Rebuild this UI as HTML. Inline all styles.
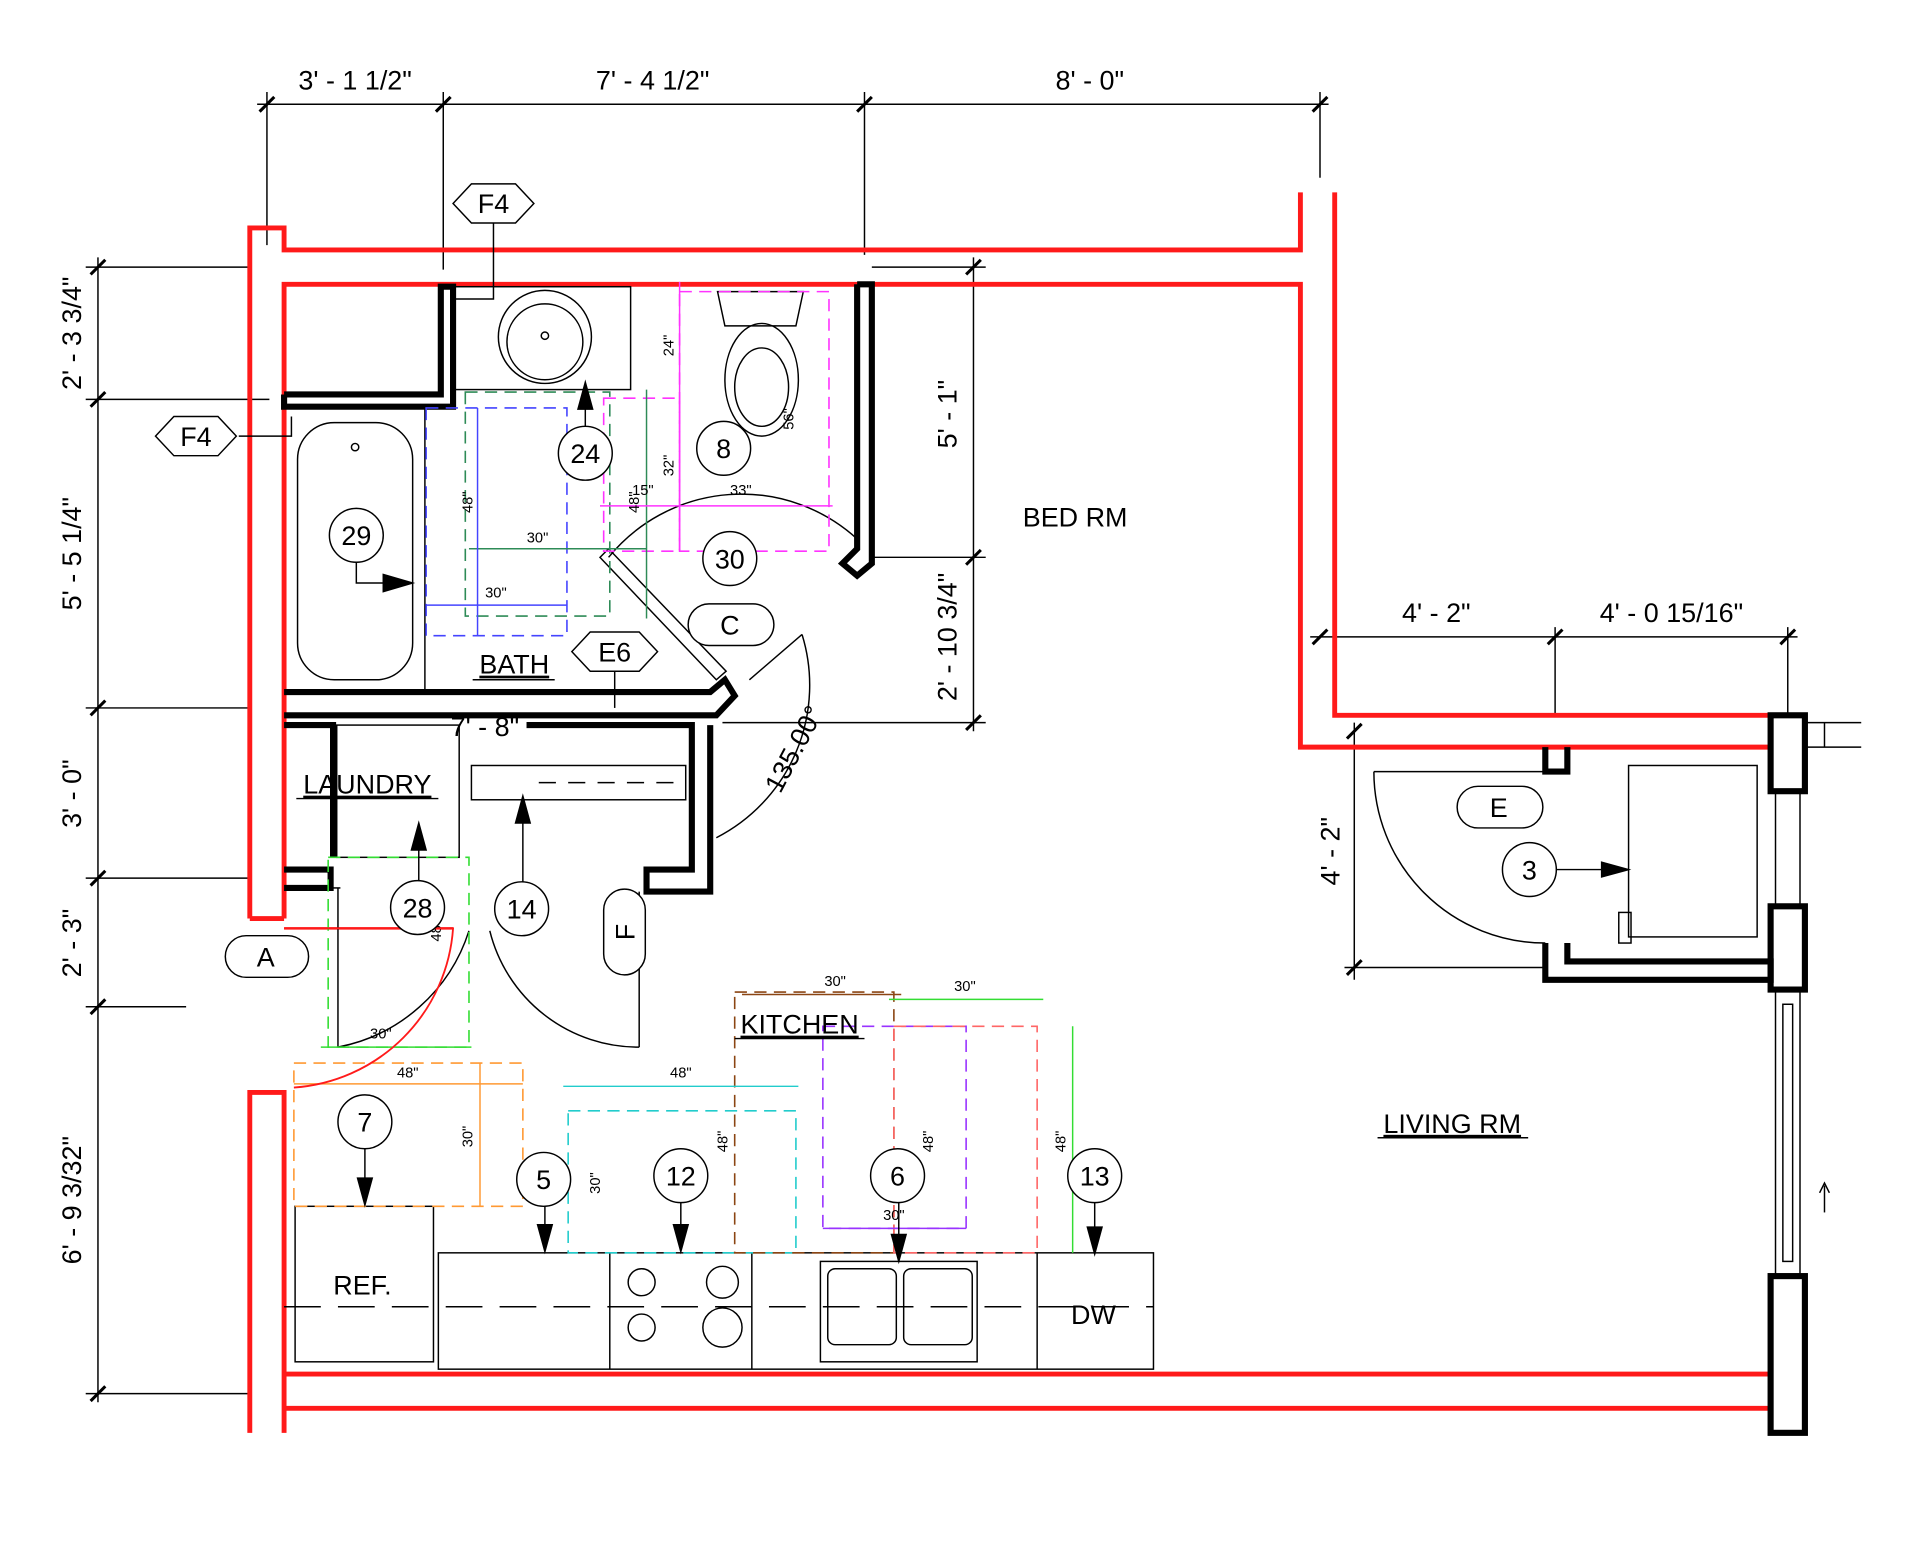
<!DOCTYPE html>
<html><head><meta charset="utf-8"><style>
html,body{margin:0;padding:0;background:#fff;}
svg{display:block;}
text{font-family:"Liberation Sans",sans-serif;fill:#000;}
</style></head><body>
<svg width="1920" height="1542" viewBox="0 0 1568 1259" xmlns="http://www.w3.org/2000/svg">
<rect width="1568" height="1259" fill="#fff"/>
<!-- dimensions top -->
<g stroke="#000" stroke-width="1.2" fill="none">
<line x1="210" y1="85" x2="1085" y2="85"/>
<line x1="218" y1="75" x2="218" y2="200"/>
<line x1="362" y1="75" x2="362" y2="220"/>
<line x1="706" y1="75" x2="706" y2="208"/>
<line x1="1078" y1="75" x2="1078" y2="145"/>
<!-- left dims -->
<line x1="80" y1="210" x2="80" y2="1145"/>
<line x1="70" y1="218" x2="205" y2="218"/>
<line x1="70" y1="326" x2="220" y2="326"/>
<line x1="70" y1="578" x2="205" y2="578"/>
<line x1="70" y1="717" x2="205" y2="717"/>
<line x1="70" y1="822" x2="152" y2="822"/>
<line x1="70" y1="1138" x2="205" y2="1138"/>
<!-- right dims -->
<line x1="795" y1="210" x2="795" y2="597"/>
<line x1="712" y1="218" x2="805" y2="218"/>
<line x1="712" y1="455" x2="805" y2="455"/>
<line x1="590" y1="590" x2="805" y2="590"/>
<line x1="1070" y1="520" x2="1468" y2="520"/>
<line x1="1270" y1="512" x2="1270" y2="585"/>
<line x1="1460" y1="512" x2="1460" y2="585"/>
<line x1="1106" y1="590" x2="1106" y2="800"/>
<line x1="1098" y1="790" x2="1260" y2="790"/>
</g>
<g stroke="#000" stroke-width="2.5">
<line x1="212" y1="91" x2="224" y2="79"/><line x1="356" y1="91" x2="368" y2="79"/><line x1="700" y1="91" x2="712" y2="79"/><line x1="1072" y1="91" x2="1084" y2="79"/>
<line x1="74" y1="224" x2="86" y2="212"/><line x1="74" y1="332" x2="86" y2="320"/><line x1="74" y1="584" x2="86" y2="572"/><line x1="74" y1="723" x2="86" y2="711"/><line x1="74" y1="828" x2="86" y2="816"/><line x1="74" y1="1144" x2="86" y2="1132"/>
<line x1="789" y1="224" x2="801" y2="212"/><line x1="789" y1="461" x2="801" y2="449"/><line x1="789" y1="596" x2="801" y2="584"/>
<line x1="1072" y1="526" x2="1084" y2="514"/><line x1="1264" y1="526" x2="1276" y2="514"/><line x1="1454" y1="526" x2="1466" y2="514"/>
<line x1="1100" y1="603" x2="1112" y2="591"/><line x1="1100" y1="796" x2="1112" y2="784"/>
</g>
<g font-size="22" text-anchor="middle">
<text x="290" y="73">3' - 1 1/2"</text>
<text x="533" y="73">7' - 4 1/2"</text>
<text x="890" y="73">8' - 0"</text>
<text x="1173" y="508">4' - 2"</text>
<text x="1365" y="508">4' - 0 15/16"</text>
<text transform="translate(66,272) rotate(-90)">2' - 3 3/4"</text>
<text transform="translate(66,452) rotate(-90)">5' - 5 1/4"</text>
<text transform="translate(66,648) rotate(-90)">3' - 0"</text>
<text transform="translate(66,770) rotate(-90)">2' - 3"</text>
<text transform="translate(66,980) rotate(-90)">6' - 9 3/32"</text>
<text transform="translate(781,338) rotate(-90)">5' - 1"</text>
<text transform="translate(781,520) rotate(-90)">2' - 10 3/4"</text>
<text transform="translate(1094,695) rotate(-90)">4' - 2"</text>
</g>
<!-- red walls -->
<g stroke="#ff1a1a" stroke-width="4" fill="none">
<polyline points="204,750 204,186 232,186 232,204 1062,204 1062,157"/>
<polyline points="232,750 232,232 1062,232 1062,610 1448,610"/>
<polyline points="1090,157 1090,584 1448,584"/>
<line x1="204" y1="750" x2="232" y2="750"/>
<line x1="232" y1="758" x2="370" y2="758" stroke-width="2"/>
<polyline points="204,1170 204,892 232,892 232,1170"/>
<line x1="232" y1="1122" x2="1446" y2="1122"/>
<line x1="232" y1="1150" x2="1446" y2="1150"/>
<line x1="1446" y1="1122" x2="1446" y2="1150"/>
</g>
<!-- black walls -->
<g stroke="#000" stroke-width="5" fill="none" stroke-linejoin="miter">
<polyline points="232,322 360,322 360,234 370,234 370,332 232,332 232,322"/>
<polyline points="700,232 712,232 712,460 700,470 688,460 700,448 700,232"/>
<polyline points="232,565 580,565 592,555 600,568 585,584 232,584"/>
<polyline points="232,592 272,592 272,700"/>
<polyline points="430,592 565,592 565,710 528,710 528,728 580,728 580,592"/>
<polyline points="232,710 270,710 270,725 232,725"/>
<polyline points="1262,610 1262,630 1280,630 1280,610"/>
<polyline points="1262,770 1262,800 1446,800 1446,785 1280,785 1280,770"/>
<rect x="1446" y="584" width="28" height="62"/>
<rect x="1446" y="740" width="28" height="68"/>
<rect x="1446" y="1042" width="28" height="128"/>
</g>
<g stroke="#000" stroke-width="1.2" fill="none">
<line x1="1450" y1="646" x2="1450" y2="740"/><line x1="1470" y1="646" x2="1470" y2="740"/>
<line x1="1450" y1="808" x2="1450" y2="1042"/><line x1="1470" y1="808" x2="1470" y2="1042"/>
<rect x="1456" y="820" width="8" height="210"/>
<path d="M1474 590 H1520 M1474 610 H1520 M1490 590 V610"/>
<line x1="1490" y1="990" x2="1490" y2="968"/><path d="M1486 974 L1490 966 L1494 974"/>
<!-- bath fixtures -->
<rect x="370" y="234" width="145" height="84"/>
<circle cx="445" cy="275" r="38"/><circle cx="445" cy="279" r="31"/>
<circle cx="445" cy="274" r="3"/>
<path d="M586 238 H656 L650 266 H592 Z"/>
<ellipse cx="622" cy="310" rx="30" ry="46"/><ellipse cx="622" cy="316" rx="22" ry="32"/>
<rect x="243" y="345" width="94" height="210" rx="30"/>
<circle cx="290" cy="365" r="3"/>
<line x1="347" y1="332" x2="347" y2="565"/>
<path d="M490 455 L585 555 L593 548 L497 448 Z"/>
<path d="M497 455 A140 140 0 0 1 700 440"/>
<path d="M585 684 A140 140 0 0 0 655 518"/>
<line x1="612" y1="555" x2="655" y2="518"/>
<!-- laundry -->
<rect x="275" y="592" width="100" height="108"/>
<rect x="385" y="625" width="175" height="28"/>
<path d="M440 639 H560" stroke-dasharray="14 10"/>
<line x1="270" y1="725" x2="278" y2="725"/>
<line x1="276" y1="725" x2="276" y2="855"/>
<path d="M383 760 A140 140 0 0 1 276 855"/>
<line x1="522" y1="728" x2="522" y2="855"/>
<path d="M400 760 A125 125 0 0 0 522 855"/>
<!-- kitchen -->
<rect x="241" y="985" width="113" height="127"/>
<rect x="358" y="1023" width="584" height="95"/>
<line x1="498" y1="1023" x2="498" y2="1118"/><line x1="614" y1="1023" x2="614" y2="1118"/><line x1="847" y1="1023" x2="847" y2="1118"/>
<circle cx="524" cy="1047" r="11"/><circle cx="590" cy="1047" r="13"/><circle cx="524" cy="1084" r="11"/><circle cx="590" cy="1084" r="16"/>
<rect x="670" y="1030" width="128" height="82"/>
<rect x="676" y="1036" width="56" height="62" rx="6"/><rect x="738" y="1036" width="56" height="62" rx="6"/>
<path d="M232 1067 H942" stroke-dasharray="30 14"/>
<!-- closet right -->
<rect x="1330" y="625" width="105" height="140"/>
<rect x="1322" y="745" width="10" height="25"/>
<line x1="1122" y1="630" x2="1262" y2="630"/>
<path d="M1122 630 A140 140 0 0 0 1262 770"/>
<!-- leaders -->
<path d="M403 182 V244 H370"/><path d="M195 356 H238 V340"/>
<line x1="502" y1="548" x2="502" y2="578"/>
</g>
<!-- accessibility dashes -->
<g fill="none" stroke-width="1.3" stroke-dasharray="10 6">
<rect x="348" y="333" width="115" height="186" stroke="#4444ff"/>
<rect x="380" y="320" width="118" height="183" stroke="#2e8b57"/>
<rect x="493" y="325" width="62" height="125" stroke="#ff33ff"/>
<rect x="555" y="238" width="122" height="212" stroke="#ff33ff"/>
<rect x="268" y="700" width="115" height="155" stroke="#33dd33"/>
<rect x="240" y="868" width="187" height="117" stroke="#ff9933"/>
<rect x="464" y="907" width="186" height="116" stroke="#22cccc"/>
<rect x="600" y="810" width="130" height="213" stroke="#8b4513"/>
<rect x="672" y="838" width="117" height="165" stroke="#9933ff"/>
<rect x="730" y="838" width="117" height="185" stroke="#ff6666"/>
</g>
<g stroke-width="1.2" fill="none">
<line x1="383" y1="448" x2="528" y2="448" stroke="#2e8b57"/>
<line x1="348" y1="494" x2="463" y2="494" stroke="#4444ff"/>
<line x1="390" y1="333" x2="390" y2="519" stroke="#4444ff"/>
<line x1="528" y1="318" x2="528" y2="505" stroke="#2e8b57"/>
<line x1="490" y1="413" x2="680" y2="413" stroke="#ff33ff"/>
<line x1="555" y1="230" x2="555" y2="450" stroke="#ff33ff"/>
<line x1="262" y1="855" x2="385" y2="855" stroke="#33dd33"/>
<line x1="240" y1="885" x2="427" y2="885" stroke="#ff9933"/>
<line x1="392" y1="868" x2="392" y2="985" stroke="#ff9933"/>
<line x1="460" y1="887" x2="652" y2="887" stroke="#22cccc"/>
<line x1="606" y1="812" x2="736" y2="812" stroke="#8b4513"/>
<line x1="726" y1="816" x2="852" y2="816" stroke="#33dd33"/>
<line x1="876" y1="838" x2="876" y2="1023" stroke="#33dd33"/>
<line x1="672" y1="1003" x2="789" y2="1003" stroke="#9933ff"/>
</g>
<g font-size="12" text-anchor="middle">
<text x="439" y="443" fill="#2e8b57">30"</text>
<text x="405" y="488" fill="#4444ff">30"</text>
<text transform="translate(386,410) rotate(-90)" fill="#4444ff">48"</text>
<text transform="translate(522,410) rotate(-90)" fill="#2e8b57">48"</text>
<text x="525" y="404" fill="#ff33ff">15"</text>
<text x="605" y="404" fill="#ff33ff">33"</text>
<text transform="translate(550,282) rotate(-90)" fill="#ff33ff">24"</text>
<text transform="translate(550,380) rotate(-90)" fill="#ff33ff">32"</text>
<text transform="translate(648,342) rotate(-90)" fill="#ff33ff">56"</text>
<text x="311" y="848" fill="#33dd33">30"</text>
<text x="333" y="880" fill="#ff9933">48"</text>
<text transform="translate(386,928) rotate(-90)" fill="#ff9933">30"</text>
<text x="556" y="880" fill="#22cccc">48"</text>
<text transform="translate(490,966) rotate(-90)" fill="#22cccc">30"</text>
<text x="682" y="805" fill="#8b4513">30"</text>
<text x="788" y="809" fill="#33dd33">30"</text>
<text transform="translate(594,932) rotate(-90)" fill="#8b4513">48"</text>
<text transform="translate(762,932) rotate(-90)" fill="#9933ff">48"</text>
<text transform="translate(870,932) rotate(-90)" fill="#33dd33">48"</text>
<text x="730" y="996" fill="#9933ff">30"</text>
<text transform="translate(360,760) rotate(-90)" fill="#33dd33">48"</text>
</g>
<path d="M232 758 L370 758 A140 140 0 0 1 240 888" stroke="#ff1a1a" stroke-width="1.5" fill="none"/>
<!-- arrows -->
<g stroke="#000" stroke-width="1.2" fill="#000">
<line x1="478" y1="348" x2="478" y2="322"/><path d="M472 334 L478 312 L484 334 Z"/>
<path d="M291 459 V476 H315" fill="none"/><path d="M313 469 L337 476 L313 483 Z"/>
<line x1="342" y1="719" x2="342" y2="690"/><path d="M336 694 L342 672 L348 694 Z"/>
<line x1="427" y1="720" x2="427" y2="668"/><path d="M421 672 L427 650 L433 672 Z"/>
<line x1="298" y1="938" x2="298" y2="965"/><path d="M292 962 L298 984 L304 962 Z"/>
<line x1="445" y1="985" x2="445" y2="1003"/><path d="M439 1000 L445 1022 L451 1000 Z"/>
<line x1="556" y1="982" x2="556" y2="1003"/><path d="M550 1000 L556 1022 L562 1000 Z"/>
<line x1="734" y1="982" x2="734" y2="1010"/><path d="M728 1008 L734 1030 L740 1008 Z"/>
<line x1="894" y1="982" x2="894" y2="1005"/><path d="M888 1002 L894 1024 L900 1002 Z"/>
<line x1="1271" y1="710" x2="1310" y2="710"/><path d="M1308 704 L1330 710 L1308 716 Z"/>
</g>
<!-- circles -->
<g fill="#fff" stroke="#000" stroke-width="1.2">
<circle cx="291" cy="437" r="22"/><circle cx="478" cy="370" r="22"/><circle cx="591" cy="366" r="22"/>
<circle cx="596" cy="456" r="22"/><circle cx="341" cy="741" r="22"/><circle cx="426" cy="742" r="22"/>
<circle cx="298" cy="916" r="22"/><circle cx="444" cy="963" r="22"/><circle cx="556" cy="960" r="22"/>
<circle cx="733" cy="960" r="22"/><circle cx="894" cy="960" r="22"/><circle cx="1249" cy="710" r="22"/>
<rect x="562" y="493" width="70" height="34" rx="17"/><rect x="1190" y="642" width="70" height="34" rx="17"/>
<rect x="184" y="764" width="68" height="34" rx="17"/><rect x="493" y="726" width="34" height="70" rx="17"/>
<polygon points="370,166 385,150 421,150 436,166 421,182 385,182"/>
<polygon points="127,356 142,340 178,340 193,356 178,372 142,372"/>
<polygon points="467,532 482,516 522,516 537,532 522,548 482,548"/>
</g>
<g font-size="22" text-anchor="middle">
<text x="291" y="445">29</text><text x="478" y="378">24</text><text x="591" y="374">8</text>
<text x="596" y="464">30</text><text x="341" y="749">28</text><text x="426" y="750">14</text>
<text x="298" y="924">7</text><text x="444" y="971">5</text><text x="556" y="968">12</text>
<text x="733" y="968">6</text><text x="894" y="968">13</text><text x="1249" y="718">3</text>
<text x="596" y="518">C</text><text x="1224" y="667">E</text><text x="217" y="789">A</text>
<text transform="translate(518,761) rotate(-90)">F</text>
<text x="403" y="174">F4</text><text x="160" y="364">F4</text><text x="502" y="540">E6</text>
<text x="878" y="430">BED RM</text>
<text x="1186" y="925" text-decoration="underline">LIVING RM</text>
<text x="420" y="550" text-decoration="underline">BATH</text>
<text x="300" y="648" text-decoration="underline">LAUNDRY</text>
<text x="653" y="844" text-decoration="underline">KITCHEN</text>
<text x="296" y="1057">REF.</text>
<text x="893" y="1081">DW</text>
<text x="396" y="601">7' - 8"</text>
<text transform="translate(655,615) rotate(-62)">135.00°</text>
</g>
<g stroke="#000" stroke-width="1.2"><line x1="386" y1="555" x2="453" y2="555"/><line x1="1125" y1="929" x2="1248" y2="929"/><line x1="242" y1="652" x2="358" y2="652"/><line x1="600" y1="848" x2="706" y2="848"/></g>
</svg>
</body></html>
